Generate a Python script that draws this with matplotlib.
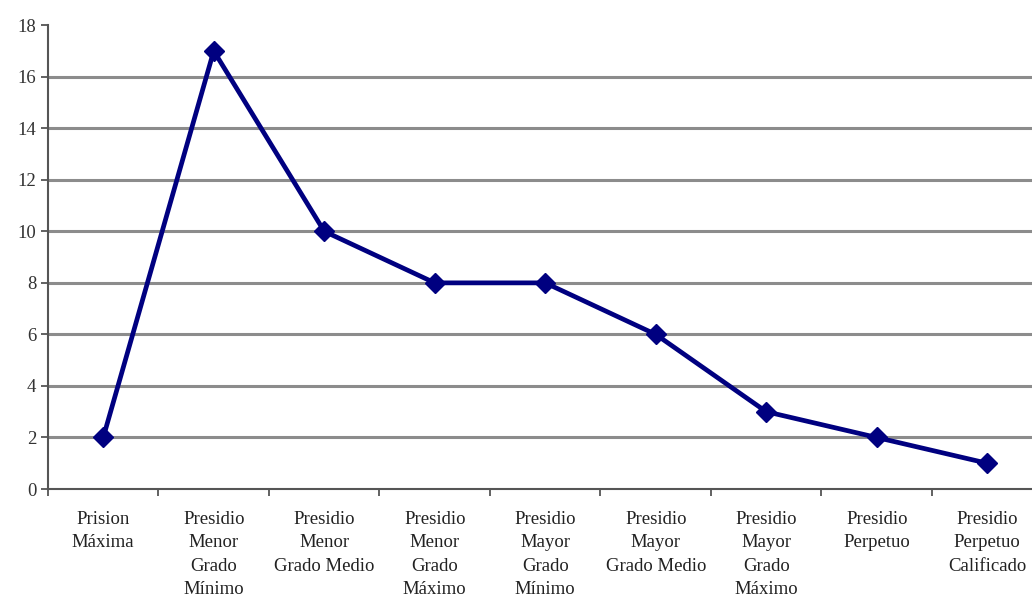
import matplotlib
matplotlib.use("Agg")
import matplotlib.pyplot as plt

# --- Datos ---
categorias = [
    "Prision\nMáxima",
    "Presidio\nMenor\nGrado\nMínimo",
    "Presidio\nMenor\nGrado Medio",
    "Presidio\nMenor\nGrado\nMáximo",
    "Presidio\nMayor\nGrado\nMínimo",
    "Presidio\nMayor\nGrado Medio",
    "Presidio\nMayor\nGrado\nMáximo",
    "Presidio\nPerpetuo",
    "Presidio\nPerpetuo\nCalificado",
]
valores = [2, 17, 10, 8, 8, 6, 3, 2, 1]
ticks_y = [0, 2, 4, 6, 8, 10, 12, 14, 16, 18]

plt.rcParams['font.family'] = ['Liberation Serif', 'DejaVu Serif']

fig = plt.figure(figsize=(10.32, 5.99), dpi=100)
ax = fig.add_axes([0.0465, 0.1836, 0.9535, 0.7744])

x = list(range(len(categorias)))

# lineas de cuadricula grises
for v in ticks_y[1:-1]:
    ax.axhline(v, color='#8c8c8c', lw=2.2, zorder=1)

ax.plot(x, valores, color='#000080', lw=3.4, marker='D', markersize=10, zorder=3)

ax.set_xlim(-0.5, 8.405)
ax.set_ylim(0, 18)
ax.set_yticks(ticks_y)
ax.set_yticklabels([str(t) for t in ticks_y], fontsize=13.5, color='#333333')

# etiquetas de categoria centradas, ticks entre categorias
ax.set_xticks([i + 0.5 for i in x[:-1]] + [-0.5])
ax.set_xticklabels([])
ax.tick_params(axis='x', length=5, width=1.3, color='#555555')
ax.tick_params(axis='y', length=5, width=1.3, color='#555555')
for i, lab in enumerate(categorias):
    ax.text(i, -0.85, lab, ha='center', va='top', fontsize=13.5, color='#222222',
            linespacing=1.5)

for s in ['top', 'right']:
    ax.spines[s].set_visible(False)
ax.spines['left'].set_color('#555555')
ax.spines['left'].set_linewidth(1.5)
ax.spines['bottom'].set_color('#555555')
ax.spines['bottom'].set_linewidth(1.5)

fig.savefig("out.png", dpi=100)
